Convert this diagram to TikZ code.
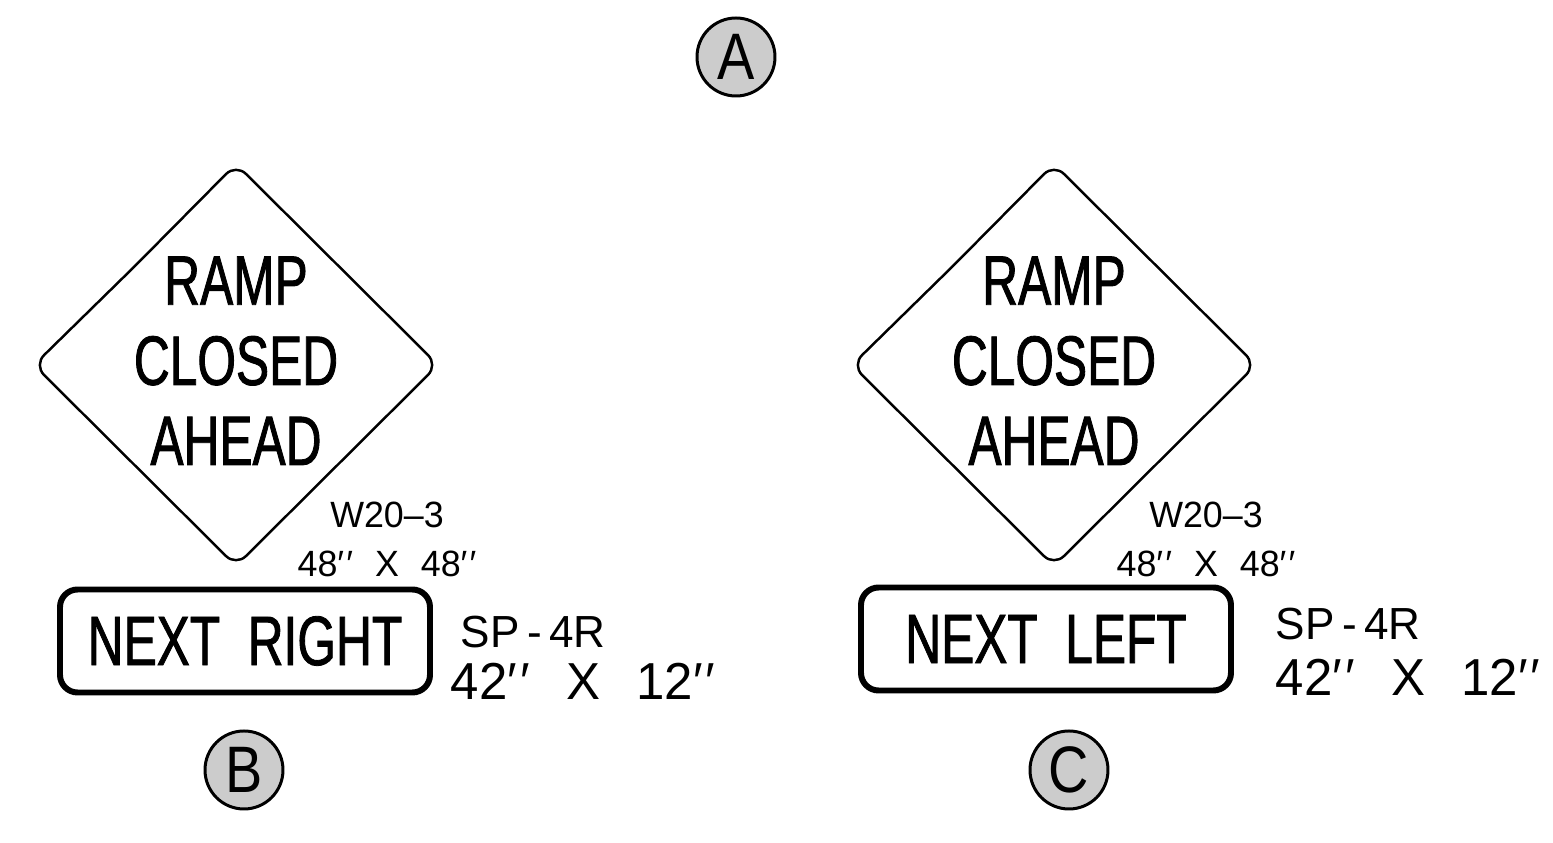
\documentclass[tikz,border=0pt]{standalone}
\usepackage{fontspec}
\setmainfont{Liberation Sans}
\newfontfamily\signfont{Liberation Sans}[FakeStretch=0.71,FakeBold=1.2]
\newfontfamily\tagfont{Liberation Sans}[FakeStretch=0.98]
\newfontfamily\markfont{Liberation Sans}[FakeStretch=0.85]
\usepackage{xcolor}
\usepackage{tikz}
\usetikzlibrary{positioning}
\definecolor{calloutgray}{HTML}{CCCCCC}
\newcommand{\inchmark}{′\kern0.06em′}
\tikzset{
  warning/.style={draw,line width=0.7pt,rounded corners=4pt},
  message/.style={anchor=base,align=center,inner sep=0pt,
    font=\signfont\fontsize{19.9}{22.8}\selectfont},
  plaque/.style={draw,line width=1.7pt,rounded corners=5pt,
    minimum width=37mm,minimum height=10.3mm,inner sep=0pt,
    font=\signfont\fontsize{19.9}{22.8}\selectfont},
  code/.style={anchor=base,align=center,inner sep=0pt,
    font=\tagfont\fontsize{10.4}{14.2}\selectfont},
  size/.style={anchor=base west,inner sep=0pt,
    font=\tagfont\fontsize{12.8}{14.8}\selectfont},
  bigsize/.style={anchor=base west,inner sep=0pt,
    font=\tagfont\fontsize{14.8}{14.8}\selectfont},
  callout/.style={circle,draw,line width=0.85pt,fill=calloutgray,
    minimum size=7.8mm,inner sep=0pt,
    font=\markfont\fontsize{18.7}{18.7}\selectfont}
}

\begin{document}
\begin{tikzpicture}[x=0.1mm,y=-0.1mm]
  \useasboundingbox (0,0) rectangle (1553,843);

  % option A heading
  \node[callout] (A) at (736,57) {A};

  % option B: ramp closed, next right
  \draw[warning] (135,266) -- (236,164) -- (438,365) -- (236,566) -- (34,365) -- cycle;
  \node[message] (msgB) at (236,465) {RAMP\\CLOSED\\AHEAD};
  \node[code] (codeB) at (387,577) {W20–3\\48\inchmark\hspace{0.6em}X\hspace{0.6em}48\inchmark};
  \node[plaque] (plaqueB) at (245,641) {NEXT\ \ RIGHT};
  \node[size] (spB) at (460,648) {SP\,-\,4R};
  \node[bigsize] (dimB) at (450,700) {42\inchmark\hspace{0.7em}X\hspace{0.7em}12\inchmark};
  \node[callout] (B) at (244,770) {B};

  % option C: ramp closed, next left
  \draw[warning] (953,266) -- (1054,164) -- (1256,365) -- (1054,566) -- (852,365) -- cycle;
  \node[message] (msgC) at (1054,465) {RAMP\\CLOSED\\AHEAD};
  \node[code] (codeC) at (1206,577) {W20–3\\48\inchmark\hspace{0.6em}X\hspace{0.6em}48\inchmark};
  \node[plaque] (plaqueC) at (1046,639) {NEXT\ \ LEFT};
  \node[size] (spC) at (1275,640) {SP\,-\,4R};
  \node[bigsize] (dimC) at (1275,696) {42\inchmark\hspace{0.7em}X\hspace{0.7em}12\inchmark};
  \node[callout] (C) at (1069,770) {C};
\end{tikzpicture}
\end{document}
